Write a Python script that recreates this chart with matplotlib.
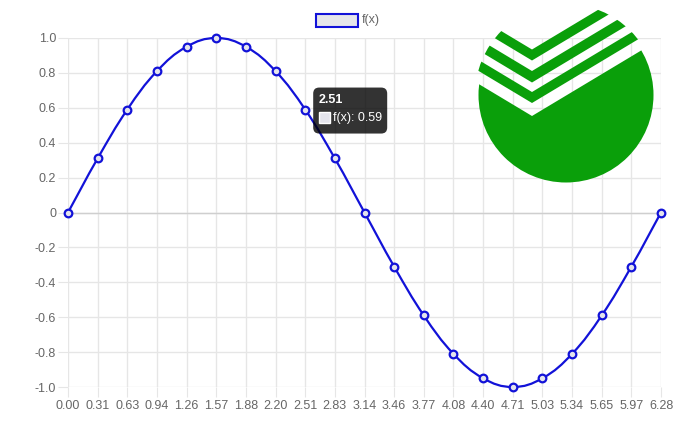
import math

import matplotlib
matplotlib.use('Agg')
import matplotlib.pyplot as plt
from matplotlib.path import Path
from matplotlib.patches import PathPatch, Circle, Polygon, FancyBboxPatch, Rectangle

# data
categories = ["0.00", "0.31", "0.63", "0.94", "1.26", "1.57", "1.88", "2.20", "2.51", "2.83",
              "3.14", "3.46", "3.77", "4.08", "4.40", "4.71", "5.03", "5.34", "5.65", "5.97", "6.28"]
values = [0, 0.31, 0.59, 0.81, 0.95, 1.0, 0.95, 0.81, 0.59, 0.31,
          0, -0.31, -0.59, -0.81, -0.95, -1.0, -0.95, -0.81, -0.59, -0.31, 0]
y_ticks = [1.0, 0.8, 0.6, 0.4, 0.2, 0, -0.2, -0.4, -0.6, -0.8, -1.0]
y_tick_labels = ["1.0", "0.8", "0.6", "0.4", "0.2", "0", "-0.2", "-0.4", "-0.6", "-0.8", "-1.0"]
series_label = "f(x)"
hover_index = 8

W, H = 696, 421
LINE = '#1212d8'
POINT_FILL = '#e4e4ec'
GRID = '#e6e6e6'
TEXT = '#666666'
GREEN = '#0a9f0a'

plt.rcParams['font.family'] = ['Liberation Sans', 'DejaVu Sans']


def spline_path(xs, ys, sx, sy, tension=0.4):
    # same bezier smoothing as chart.js, done in pixel scale
    pts = [(x * sx, y * sy) for x, y in zip(xs, ys)]
    n = len(pts)
    prev_cp, next_cp = [], []
    for i in range(n):
        p0 = pts[max(i - 1, 0)]
        p1 = pts[i]
        p2 = pts[min(i + 1, n - 1)]
        d01 = math.hypot(p1[0] - p0[0], p1[1] - p0[1])
        d12 = math.hypot(p2[0] - p1[0], p2[1] - p1[1])
        tot = d01 + d12
        s01 = d01 / tot if tot else 0
        s12 = d12 / tot if tot else 0
        fa, fb = tension * s01, tension * s12
        prev_cp.append((p1[0] - fa * (p2[0] - p0[0]), p1[1] - fa * (p2[1] - p0[1])))
        next_cp.append((p1[0] + fb * (p2[0] - p0[0]), p1[1] + fb * (p2[1] - p0[1])))
    verts = [pts[0]]
    codes = [Path.MOVETO]
    for i in range(n - 1):
        verts += [next_cp[i], prev_cp[i + 1], pts[i + 1]]
        codes += [Path.CURVE4] * 3
    verts = [(vx / sx, vy / sy) for vx, vy in verts]
    return Path(verts, codes)


fig = plt.figure(figsize=(W / 100, H / 100), dpi=100)
ax_l, ax_r, ax_t, ax_b = 68, 661, 38, 387
ax = fig.add_axes([ax_l / W, (H - ax_b) / H, (ax_r - ax_l) / W, (ax_b - ax_t) / H])

xs = list(range(len(categories)))
ax.set_xlim(0, len(categories) - 1)
ax.set_ylim(-1.0, 1.0)
ax.set_xticks(xs)
ax.set_xticklabels(categories)
ax.set_yticks(y_ticks)
ax.set_yticklabels(y_tick_labels)
for s in ax.spines.values():
    s.set_visible(False)
ax.grid(True, color=GRID, linewidth=1)
ax.set_axisbelow(True)
ax.axhline(0, color='#cfcfcf', linewidth=1, zorder=1)
ax.tick_params(axis='both', length=7.5, width=0.8, color=GRID, labelcolor=TEXT, labelsize=9)
ax.tick_params(axis='x', pad=2)
ax.tick_params(axis='y', pad=1)

sx = (ax_r - ax_l) / (len(categories) - 1)
sy = (ax_b - ax_t) / 2
curve = spline_path(xs, values, sx, sy)
ax.add_patch(PathPatch(curve, fill=False, edgecolor=LINE, linewidth=1.6, zorder=3, clip_on=False))
ax.plot(xs, values, linestyle='none', marker='o', markersize=5.5, markeredgewidth=1.6,
        markeredgecolor=LINE, markerfacecolor=POINT_FILL, zorder=4, clip_on=False)

# overlay in pixel coordinates for legend, tooltip and logo
ov = fig.add_axes([0, 0, 1, 1])
ov.set_xlim(0, W)
ov.set_ylim(H, 0)
ov.axis('off')
ov.patch.set_alpha(0)

# legend
ov.add_patch(Rectangle((316, 14), 42, 13, facecolor='#e6e6ea', edgecolor=LINE, linewidth=1.5))
ov.text(362, 20.5, series_label, color=TEXT, fontsize=9, va='center', ha='left')

# tooltip at hovered point
dx, dy = ax.transData.transform((hover_index, values[hover_index]))
px, py = dx, H - dy
bx, by = px + 8, py - 22
ov.add_patch(FancyBboxPatch((bx, by), 74, 46, boxstyle='round,pad=0,rounding_size=6',
                            facecolor=(0, 0, 0, 0.8), edgecolor='none', zorder=5))
ov.text(bx + 5, by + 12, categories[hover_index], color='white', fontsize=9,
        fontweight='bold', va='center', ha='left', zorder=6)
ov.add_patch(Rectangle((bx + 6, by + 24), 11, 11, facecolor=POINT_FILL, edgecolor='white',
                       linewidth=1, zorder=6))
ov.text(bx + 20, by + 30, f"{series_label}: {values[hover_index]:.2f}", color='white',
        fontsize=9, va='center', ha='left', zorder=6)

# logo: green circle with three chevron stripes
cx, cy = 566, 95
vx, k = 532, 0.6
far = 200


def chevron(top, bottom):
    return [(vx - far, top - k * far), (vx, top), (vx + far, top - k * far),
            (vx + far, bottom - k * far), (vx, bottom), (vx - far, bottom - k * far)]


body_clip = Circle((cx, cy), 87.5, transform=ov.transData)
body = Polygon([(vx - far, 116 - k * far), (vx, 116), (vx + far, 116 - k * far),
                (vx + far, 400), (vx - far, 400)], closed=True, facecolor=GREEN,
               edgecolor='none', zorder=7)
ov.add_patch(body)
body.set_clip_path(body_clip)

for top, bottom in [(49.5, 60.5), (71, 82.5), (92, 103)]:
    band_clip = Circle((cx, cy), 91, transform=ov.transData)
    band = Polygon(chevron(top, bottom), closed=True, facecolor=GREEN, edgecolor='none', zorder=7)
    ov.add_patch(band)
    band.set_clip_path(band_clip)

fig.savefig('out.png', dpi=100)
